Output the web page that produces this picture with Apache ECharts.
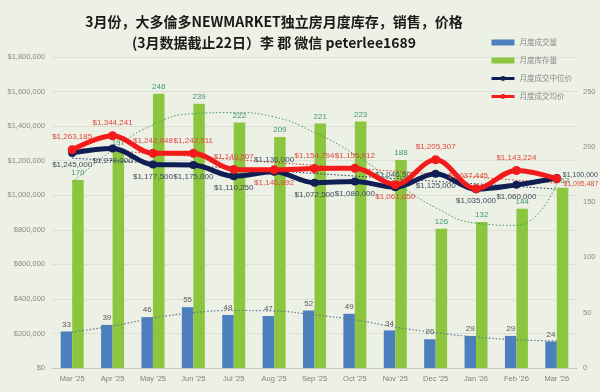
<!DOCTYPE html>
<html>
<head>
<meta charset="utf-8">
<script src="https://cdn.jsdelivr.net/npm/echarts@6/dist/echarts.min.js"></script>
<style>
html,body{margin:0;padding:0;background:#edf0e4;}
#chart{width:600px;height:392px;}
</style>
</head>
<body>
<div id="chart"></div>
<script>
// ---- data ----
const categories = ["Mar '25","Apr '25","May '25","Jun '25","Jul '25","Aug '25","Sep '25","Oct '25","Nov '25","Dec '25","Jan '26","Feb '26","Mar '26"];
const salesVolume = [33, 39, 46, 55, 48, 47, 52, 49, 34, 26, 29, 29, 24];
const inventory = [170, 197, 248, 239, 222, 209, 221, 223, 188, 126, 132, 144, 163];
const medianPrice = [1245000, 1270000, 1177500, 1175000, 1110250, 1136000, 1072500, 1080000, 1046500, 1125000, 1035000, 1060000, 1100000];
const avgPrice = [1263185, 1344241, 1242848, 1242511, 1149507, 1146892, 1154794, 1155912, 1061050, 1205307, 1037445, 1143224, 1095487];
// trend lines
const salesTrend = [32.5, 38, 45, 50, 52, 51.5, 48, 43.5, 37, 32, 28, 25.5, 24.5];
const inventoryTrend = [168, 197, 220, 230, 231, 227, 213, 193, 168, 145, 131, 129, 167];
const avgTrend = [1275000, 1258000, 1241000, 1224000, 1207000, 1190000, 1173000, 1156000, 1139000, 1122000, 1105000, 1087000, 1070000];
const medianTrend = [1215000, 1200000, 1185000, 1170000, 1156000, 1141000, 1126000, 1111000, 1096000, 1081000, 1066000, 1051000, 1036000];
const leftTicks = {min: 0, max: 1800000, interval: 200000};
const rightTicks = {min: 0, max: 281.25, interval: 50};

// ---- label placement (style only) ----
const medLabelPos = {5: {position: 'top'}, 8: {position: 'top'}, 12: {position: 'right', offset: [-2, -3], fontSize: 7}};
const avgLabelPos = {5: {position: 'bottom'}, 8: {position: 'bottom'}, 10: {position: 'top', offset: [-8, 0]}, 12: {position: 'right', offset: [-2, 5], fontSize: 7}};

function fmt(v){ return '$' + String(v).replace(/\B(?=(\d{3})+(?!\d))/g, ','); }
function withLabels(arr, pos){
  return arr.map((v, i) => pos[i] ? {value: v, label: pos[i]} : v);
}

const chart = echarts.init(document.getElementById('chart'), null, {renderer: 'canvas'});
const fontFam = 'Liberation Sans, Arial, sans-serif';
const option = {
  backgroundColor: '#edf0e4',
  animation: false,
  textStyle: {fontFamily: fontFam},
  title: {
    text: '3月份，大多倫多NEWMARKET独立房月度库存，销售，价格\n(3月数据截止22日）李 郡 微信 peterlee1689',
    left: 269, top: 6, textAlign: 'center',
    textStyle: {fontSize: 14, fontWeight: 'bold', color: '#1a1a1a', lineHeight: 21, fontFamily: 'Noto Sans CJK SC, sans-serif'}
  },
  legend: {
    orient: 'vertical', left: 485, top: 33,
    itemWidth: 23, itemHeight: 6, itemGap: 9,
    textStyle: {fontSize: 7.5, color: '#8a8a8a', lineHeight: 9, fontFamily: 'Noto Sans CJK SC, sans-serif'},
    data: [
      {name: '月度成交量', icon: 'rect'},
      {name: '月度库存量', icon: 'rect'},
      {name: '月度成交中位价', lineStyle: {width: 3}},
      {name: '月度成交均价', lineStyle: {width: 3}}
    ]
  },
  grid: {left: 52, right: 23, top: 57, bottom: 24, containLabel: false},
  xAxis: {
    type: 'category', data: categories,
    axisLine: {lineStyle: {color: '#c8cbbf'}},
    axisTick: {show: false},
    axisLabel: {fontSize: 7.5, color: '#7f7f7f', margin: 7}
  },
  yAxis: [
    {
      type: 'value', min: leftTicks.min, max: leftTicks.max, interval: leftTicks.interval,
      axisLine: {show: false}, axisTick: {show: false},
      splitLine: {lineStyle: {color: '#dde0d5'}},
      axisLabel: {fontSize: 7.5, color: '#8a8a8a', formatter: fmt, margin: 7}
    },
    {
      type: 'value', position: 'right', min: rightTicks.min, max: rightTicks.max, interval: rightTicks.interval,
      axisLine: {show: false}, axisTick: {show: false}, splitLine: {show: false},
      axisLabel: {fontSize: 7.5, color: '#8a8a8a', margin: 6, showMaxLabel: false}
    }
  ],
  series: [
    {
      name: '月度成交量', type: 'bar', yAxisIndex: 1, data: salesVolume,
      barWidth: 11.5, barGap: '0%',
      itemStyle: {color: '#4d7fbf'},
      label: {show: true, position: 'top', distance: 3, fontSize: 8, color: '#5a5a5a'},
      z: 2
    },
    {
      name: '月度库存量', type: 'bar', yAxisIndex: 1, data: inventory,
      barWidth: 11.5,
      itemStyle: {color: '#8cc63f'},
      label: {show: true, position: 'top', distance: 3, fontSize: 8, color: '#3f9a6e'},
      z: 2
    },
    {
      name: 'salesTrend', type: 'line', yAxisIndex: 1, data: salesTrend, smooth: true,
      symbol: 'none', lineStyle: {color: '#5f7a8f', width: 1.2, type: [1.5, 2]}, z: 3, silent: true
    },
    {
      name: 'inventoryTrend', type: 'line', yAxisIndex: 1, data: inventoryTrend, smooth: true,
      symbol: 'none', lineStyle: {color: '#3aa05a', width: 1, type: [1.5, 2]}, z: 3, silent: true
    },
    {
      name: 'medianTrend', type: 'line', yAxisIndex: 0, data: medianTrend,
      symbol: 'none', lineStyle: {color: '#1f2d5a', width: 1, type: [1.5, 2]}, z: 3, silent: true
    },
    {
      name: 'avgTrend', type: 'line', yAxisIndex: 0, data: avgTrend,
      symbol: 'none', lineStyle: {color: '#e03030', width: 1, type: [1.5, 2]}, z: 3, silent: true
    },
    {
      name: '月度成交中位价', type: 'line', yAxisIndex: 0, data: withLabels(medianPrice, medLabelPos),
      smooth: 0.35, symbol: 'circle', symbolSize: 8,
      lineStyle: {color: '#0f1f55', width: 5}, itemStyle: {color: '#0f1f55'},
      label: {show: true, position: 'bottom', distance: 4, fontSize: 8, color: '#3f4a5e', formatter: p => fmt(p.value)},
      z: 5
    },
    {
      name: '月度成交均价', type: 'line', yAxisIndex: 0, data: withLabels(avgPrice, avgLabelPos),
      smooth: 0.35, symbol: 'circle', symbolSize: 9,
      lineStyle: {color: '#f21a1a', width: 5}, itemStyle: {color: '#f21a1a'},
      label: {show: true, position: 'top', distance: 4, fontSize: 8, color: '#e04842', formatter: p => fmt(p.value)},
      z: 6
    }
  ]
};
chart.setOption(option);
</script>
</body>
</html>
